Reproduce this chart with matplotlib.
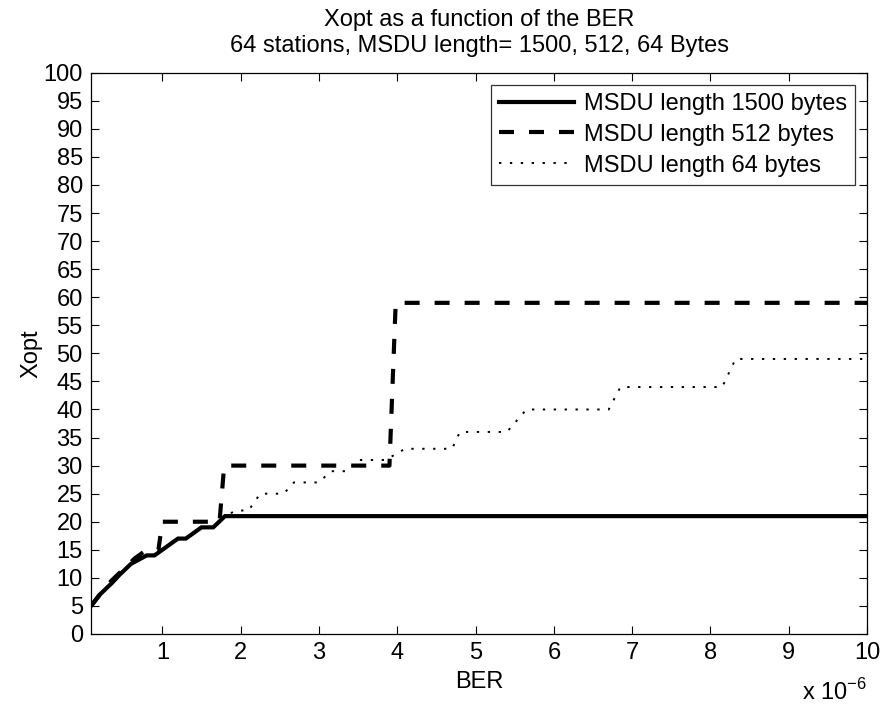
import matplotlib.pyplot as plt
import matplotlib.ticker as mticker
import numpy as np

plt.rcParams['font.family'] = ['Liberation Sans', 'DejaVu Sans']
plt.rcParams['mathtext.fontset'] = 'custom'
plt.rcParams['mathtext.rm'] = 'Liberation Sans'

# BER values in units of 1e-6, Xopt
ber_1500 = [0.09, 0.2, 0.35, 0.45, 0.6, 0.8, 0.9, 1.05, 1.2, 1.3, 1.5, 1.65, 1.8, 10]
xopt_1500 = [5, 7, 9, 10.5, 12.5, 14, 14, 15.5, 17, 17, 19, 19, 21, 21]

ber_512 = [0.09, 0.2, 0.35, 0.5, 0.65, 0.8, 0.95, 1.0, 1.73, 1.79, 3.9, 3.98, 10]
xopt_512 = [5, 7, 9.5, 11.5, 13.5, 15, 15, 20, 20, 30, 30, 59, 59]

ber_64 = [0.09, 0.35, 0.6, 0.8, 0.9, 1.05, 1.2, 1.3, 1.5, 1.65, 1.8, 1.94, 2.1,
          2.25, 2.55, 2.68, 3.0, 3.15, 3.35, 3.5, 3.85, 4.1, 4.7, 4.8, 5.4,
          5.65, 6.7, 6.85, 8.15, 8.32, 10]
xopt_64 = [5, 9, 12.5, 14, 14, 15.5, 17, 17, 19, 19, 21, 22, 22,
           25, 25, 27, 27, 29, 29, 31, 31, 33, 33, 36, 36,
           40, 40, 44, 44, 49, 49]

labels = ['MSDU length 1500 bytes', 'MSDU length 512 bytes', 'MSDU length 64 bytes']
fs = 17

fig = plt.figure(figsize=(8.93, 7.06), dpi=100)
ax = fig.add_axes([0.102, 0.102, 0.869, 0.795])

ax.plot(np.array(ber_1500) * 1e-6, xopt_1500, color='black', lw=3.0,
        solid_joinstyle='miter', label=labels[0])
ax.plot(np.array(ber_512) * 1e-6, xopt_512, color='black', lw=3.0,
        dashes=(3.6, 3.6), label=labels[1])
ax.plot(np.array(ber_64) * 1e-6, xopt_64, color='black', lw=1.4,
        dashes=(1.2, 4.4), label=labels[2])

ax.set_xlim(0.09e-6, 10e-6)
ax.set_ylim(0, 100)
ax.set_xticks(np.arange(1, 11) * 1e-6)
ax.xaxis.set_major_formatter(mticker.FuncFormatter(lambda v, p: '%d' % round(v * 1e6)))
ax.set_yticks(np.arange(0, 101, 5))

ax.tick_params(direction='in', length=6, width=0.8, top=True, right=True,
               labelsize=fs, pad=6)
for s in ax.spines.values():
    s.set_linewidth(0.9)

ax.set_xlabel('BER', fontsize=fs, labelpad=5)
ax.set_ylabel('Xopt', fontsize=fs, labelpad=1)
ax.set_title('Xopt as a function of the BER\n64 stations, MSDU length= 1500, 512, 64 Bytes',
             fontsize=fs, pad=15, linespacing=1.25)
ax.text(1.0, -0.08, r'x 10$^{-6}$', transform=ax.transAxes, ha='right',
        va='top', fontsize=fs)

leg = ax.legend(loc='upper right', fontsize=fs, frameon=True, fancybox=False,
                edgecolor='black', borderaxespad=0.5, handlelength=3.2,
                handletextpad=0.4, borderpad=0.35, labelspacing=0.38)
leg.get_frame().set_linewidth(0.9)

fig.savefig('out.png', dpi=100)
